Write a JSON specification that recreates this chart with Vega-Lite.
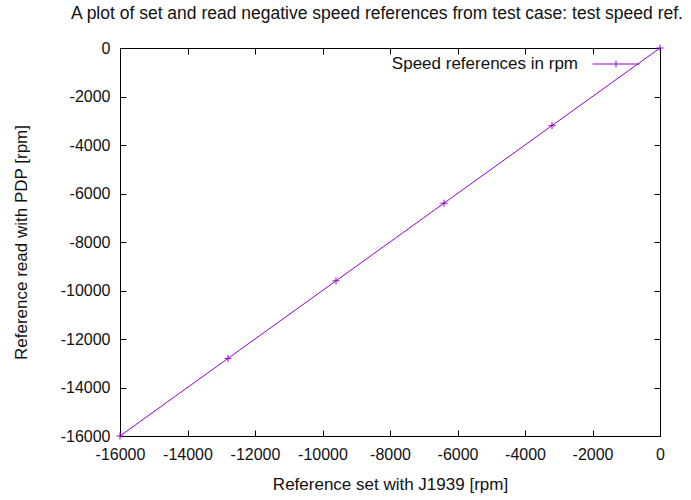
{
  "$schema": "https://vega.github.io/schema/vega-lite/v6.json",
  "width": 540,
  "height": 388,
  "autosize": {"type": "none"},
  "padding": {"left": 120, "top": 48, "right": 31, "bottom": 64},
  "background": "white",
  "title": {
    "text": "A plot of set and read negative speed references from test case: test speed ref.",
    "font": "Liberation Sans",
    "fontSize": 17.5,
    "fontWeight": "normal",
    "color": "#111",
    "anchor": "middle",
    "dx": -13,
    "offset": 18
  },
  "data": {
    "values": [
      {"set": -16000, "read": -16000, "series": "Speed references in rpm"},
      {"set": -12800, "read": -12800, "series": "Speed references in rpm"},
      {"set": -9600, "read": -9600, "series": "Speed references in rpm"},
      {"set": -6400, "read": -6400, "series": "Speed references in rpm"},
      {"set": -3200, "read": -3200, "series": "Speed references in rpm"},
      {"set": 0, "read": 0, "series": "Speed references in rpm"}
    ]
  },
  "config": {
    "view": {"stroke": "black", "strokeWidth": 1},
    "axis": {
      "grid": false,
      "labelFont": "Liberation Sans",
      "labelFontSize": 16,
      "labelColor": "#111",
      "titleFont": "Liberation Sans",
      "titleFontSize": 17,
      "titleFontWeight": "normal",
      "titleColor": "#111",
      "domainColor": "black",
      "tickColor": "black",
      "tickSize": -6,
      "labelPadding": 14
    }
  },
  "layer": [
    {
      "mark": {"type": "line", "strokeWidth": 1},
      "encoding": {
        "x": {
          "field": "set", "type": "quantitative",
          "scale": {"domain": [-16000, 0], "nice": false, "zero": false},
          "axis": {"orient": "bottom", "values": [-16000, -14000, -12000, -10000, -8000, -6000, -4000, -2000, 0], "labelExpr": "'' + datum.value", "labelPadding": 16, "title": "Reference set with J1939 [rpm]", "titlePadding": 14, "labelFlush": false}
        },
        "y": {
          "field": "read", "type": "quantitative",
          "scale": {"domain": [-16000, 0], "nice": false, "zero": false},
          "axis": {"orient": "left", "values": [-16000, -14000, -12000, -10000, -8000, -6000, -4000, -2000, 0], "labelExpr": "'' + datum.value", "labelPadding": 16, "title": "Reference read with PDP [rpm]", "titlePadding": 30, "labelFlush": false}
        },
        "color": {
          "field": "series", "type": "nominal",
          "scale": {"range": ["#9400d3"]},
          "legend": {
            "orient": "none",
            "legendX": 472,
            "legendY": -8,
            "title": null,
            "padding": 0,
            "symbolType": "M-1,0H1M0,-0.13V0.13",
            "symbolSize": 2209,
            "symbolStrokeWidth": 1,
            "symbolFillColor": "transparent",
            "labelAlign": "right",
            "labelOffset": -62,
            "labelFont": "Liberation Sans",
            "labelFontSize": 17,
            "labelColor": "#111",
            "labelLimit": 400
          }
        }
      }
    },
    {
      "mark": {"type": "point", "shape": "M-1,0H1M0,-1V1", "size": 49, "filled": false, "strokeWidth": 1, "opacity": 1},
      "encoding": {
        "x": {
          "field": "set", "type": "quantitative",
          "axis": {"orient": "top", "values": [-16000, -14000, -12000, -10000, -8000, -6000, -4000, -2000, 0], "labels": false, "title": null}
        },
        "y": {
          "field": "read", "type": "quantitative",
          "axis": {"orient": "right", "values": [-16000, -14000, -12000, -10000, -8000, -6000, -4000, -2000, 0], "labels": false, "title": null}
        },
        "color": {"field": "series", "type": "nominal"}
      }
    }
  ]
}
